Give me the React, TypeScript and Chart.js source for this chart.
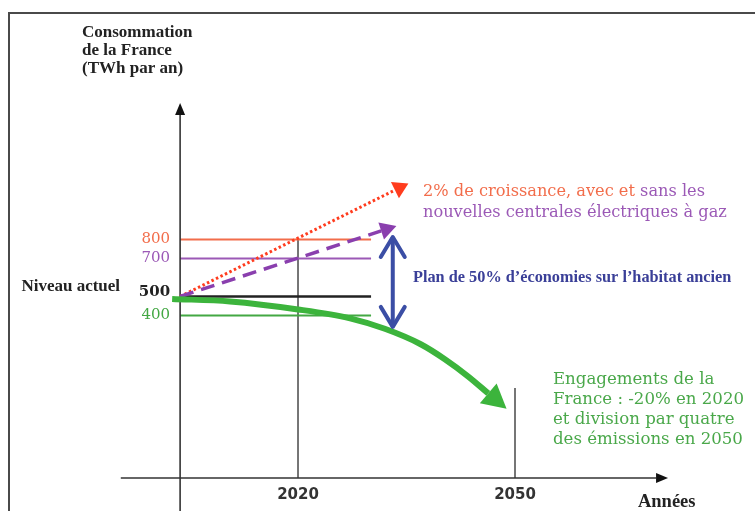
import { useEffect, useRef } from 'react';
import { Chart, registerables } from 'chart.js';

Chart.register(...registerables);

// ---------- data ----------
const Y_TITLE = ['Consommation', 'de la France', '(TWh par an)'];
const LEVEL_VALUES = [800, 700, 500, 400];
const LEVEL_LABELS = ['800', '700', '500', '400'];
const CURRENT_LEVEL = 500;
const CURRENT_LABEL = 'Niveau actuel';
const ORIGIN_YEAR = 2003.7;
const LEVEL_END_YEAR = 2030.1;
const X_TICKS = [2020, 2050];
const X_TICK_LABELS = ['2020', '2050'];
const X_TITLE = 'Années';
const GUIDE_TOPS = [800, 18];

const AXIS_BASE = -455;
const Y_AXIS_TOP = 1455;
const Y_AXIS_BOTTOM = -629;
const X_AXIS_START = 1995.5;
const X_AXIS_END = 2069.5;

const GROWTH_YEARS = [2003.7, 2033.4];
const GROWTH_VALUES = [500, 1060];
const GAS_YEARS = [2003.7, 2031.5];
const GAS_VALUES = [500, 845];
const PLAN_YEARS = [2033.1, 2033.1];
const PLAN_VALUES = [813, 340];
const COMMIT_YEARS = [2002.6, 2010.6, 2020, 2027.2, 2032.0, 2036.9, 2040.3, 2043.5, 2046.3];
const COMMIT_VALUES = [487, 474, 432, 385, 330, 250, 170, 80, -10];

const GROWTH_TEXT_1A = '2% de croissance, avec et';
const GROWTH_TEXT_1B = ' sans les';
const GROWTH_TEXT_2 = 'nouvelles centrales électriques à gaz';
const PLAN_TEXT = 'Plan de 50% d\u2019économies sur l\u2019habitat ancien';
const COMMIT_TEXT = ['Engagements de la', 'France : -20% en 2020', 'et division par quatre', 'des émissions en 2050'];

// ---------- styles ----------
const C_ORANGE = '#f26d4b';
const C_PURPLE = '#9b59b6';
const C_PURPLE_DARK = '#8a3fae';
const C_RED = '#ff3c1e';
const C_BLUE = '#3b4ea5';
const C_BLUE_TEXT = '#3a3f98';
const C_GREEN = '#3cb43c';
const C_GREEN_TEXT = '#4aa84a';
const C_AXIS = '#333333';
const LEVEL_COLORS = [C_ORANGE, C_PURPLE, '#222222', '#43a843'];
const LEVEL_WIDTHS = [2, 2, 2.5, 2];

const X_MIN = 1978.8;
const X_MAX = 2083.18;
const Y_MIN = -629;
const Y_MAX = 2060.5;

const pts = (xs: number[], ys: number[]) => xs.map((x, i) => ({ x, y: ys[i] }));

const lineDs = (data: any[], color: string, width: number, extra: any = {}) => ({
  type: 'line',
  data,
  borderColor: color,
  backgroundColor: color,
  borderWidth: width,
  pointRadius: 0,
  fill: false,
  tension: 0,
  ...extra,
});

const arrowPlugin = {
  id: 'arrowHeads',
  afterDatasetsDraw(chart: any) {
    const ctx = chart.ctx;
    chart.data.datasets.forEach((ds: any, i: number) => {
      const head = ds.head;
      if (!head) return;
      const p = chart.getDatasetMeta(i).data;
      const n = p.length;
      const drawHead = (a: any, b: any) => {
        let dx = a.x - b.x;
        let dy = a.y - b.y;
        const len = Math.hypot(dx, dy) || 1;
        dx /= len;
        dy /= len;
        const px = -dy;
        const py = dx;
        ctx.save();
        if (head.type === 'solid') {
          ctx.fillStyle = head.color;
          ctx.beginPath();
          ctx.moveTo(a.x + dx * head.length, a.y + dy * head.length);
          ctx.lineTo(a.x + px * head.width, a.y + py * head.width);
          ctx.lineTo(a.x - px * head.width, a.y - py * head.width);
          ctx.closePath();
          ctx.fill();
        } else {
          ctx.strokeStyle = head.color;
          ctx.lineWidth = head.lineWidth;
          ctx.lineCap = 'round';
          ctx.lineJoin = 'round';
          ctx.beginPath();
          ctx.moveTo(a.x - dx * head.length + px * head.width, a.y - dy * head.length + py * head.width);
          ctx.lineTo(a.x, a.y);
          ctx.lineTo(a.x - dx * head.length - px * head.width, a.y - dy * head.length - py * head.width);
          ctx.stroke();
        }
        ctx.restore();
      };
      drawHead(p[n - 1], p[n - 2]);
      if (head.both) drawHead(p[0], p[1]);
    });
  },
};

const textPlugin = {
  id: 'texts',
  afterDraw(chart: any) {
    const ctx = chart.ctx;
    const xs = chart.scales.x;
    const ys = chart.scales.y;
    const X = (v: number) => xs.getPixelForValue(v);
    const Y = (v: number) => ys.getPixelForValue(v);
    const put = (t: string, x: number, y: number, font: string, color: string, align: CanvasTextAlign = 'left') => {
      ctx.font = font;
      ctx.fillStyle = color;
      ctx.textAlign = align;
      ctx.textBaseline = 'middle';
      ctx.fillText(t, x, y);
      return ctx.measureText(t).width;
    };
    ctx.save();
    const serif = '"Liberation Serif", "Times New Roman", serif';
    const wide = '"DejaVu Serif", serif';
    // y title
    Y_TITLE.forEach((t, i) => put(t, X(1990.14), Y(1892) + 1 + i * 18, `bold 17px ${serif}`, '#222'));
    // level tick labels
    const ax = X(ORIGIN_YEAR);
    LEVEL_VALUES.forEach((v, i) => {
      const bold = v === CURRENT_LEVEL ? 'bold ' : '';
      put(LEVEL_LABELS[i], ax - 10, Y(v) - (v === CURRENT_LEVEL ? 4 : 0), `${bold}15px ${wide}`, LEVEL_COLORS[i], 'right');
    });
    put(CURRENT_LABEL, X(1995.4), Y(CURRENT_LEVEL) - 10, `bold 17px ${serif}`, '#222', 'right');
    // x ticks
    const base = Y(AXIS_BASE);
    X_TICKS.forEach((v, i) => put(X_TICK_LABELS[i], X(v), base + 17, 'bold 15px "DejaVu Sans", sans-serif', C_AXIS, 'center'));
    put(X_TITLE, X(2067.0), base + 24, `bold 18.5px ${serif}`, '#222');
    // growth text
    const gx = X(2037.28);
    const gy = Y(1050);
    const w = put(GROWTH_TEXT_1A, gx, gy, `16.2px ${wide}`, C_ORANGE);
    put(GROWTH_TEXT_1B, gx + w, gy, `16.2px ${wide}`, C_PURPLE);
    put(GROWTH_TEXT_2, gx, gy + 21, `16.2px ${wide}`, C_PURPLE);
    // plan text
    put(PLAN_TEXT, X(2035.9), Y(597), `bold 16.3px ${serif}`, C_BLUE_TEXT);
    // commitments
    COMMIT_TEXT.forEach((t, i) => put(t, X(2055.25), Y(60.5) + i * 20, `16.6px ${wide}`, C_GREEN_TEXT));
    ctx.restore();
  },
};

export default function App() {
  const ref = useRef<HTMLCanvasElement | null>(null);
  useEffect(() => {
    if (!ref.current) return;
    const datasets: any[] = [];
    // vertical guides
    X_TICKS.forEach((yr, i) => {
      datasets.push(lineDs(pts([yr, yr], [GUIDE_TOPS[i], AXIS_BASE]), '#555555', 1.6));
    });
    // level lines
    LEVEL_VALUES.forEach((v, i) => {
      datasets.push(lineDs(pts([ORIGIN_YEAR, LEVEL_END_YEAR], [v, v]), LEVEL_COLORS[i], LEVEL_WIDTHS[i]));
    });
    // axes
    datasets.push(
      lineDs(pts([ORIGIN_YEAR, ORIGIN_YEAR], [Y_AXIS_BOTTOM, Y_AXIS_TOP]), C_AXIS, 1.6, {
        head: { type: 'solid', length: 12, width: 5, color: '#111' },
      })
    );
    datasets.push(
      lineDs(pts([X_AXIS_START, X_AXIS_END], [AXIS_BASE, AXIS_BASE]), C_AXIS, 1.6, {
        head: { type: 'solid', length: 12, width: 5, color: '#111' },
      })
    );
    // scenarios
    datasets.push(
      lineDs(pts(GROWTH_YEARS, GROWTH_VALUES), C_RED, 3, {
        borderDash: [2.5, 2.5],
        head: { type: 'solid', length: 15, width: 9, color: C_RED },
      })
    );
    datasets.push(
      lineDs(pts(GAS_YEARS, GAS_VALUES), C_PURPLE_DARK, 3.5, {
        borderDash: [14, 8],
        head: { type: 'solid', length: 16, width: 9, color: C_PURPLE_DARK },
      })
    );
    datasets.push(
      lineDs(pts(PLAN_YEARS, PLAN_VALUES), C_BLUE, 4, {
        head: { type: 'chevron', length: 20, width: 12, lineWidth: 4, both: true, color: C_BLUE },
      })
    );
    datasets.push(
      lineDs(pts(COMMIT_YEARS, COMMIT_VALUES), C_GREEN, 6, {
        cubicInterpolationMode: 'monotone',
        head: { type: 'solid', length: 24, width: 13, color: C_GREEN },
      })
    );
    datasets.forEach((d, i) => (d.order = -i));

    const chart = new Chart(ref.current, {
      type: 'line',
      data: { datasets },
      options: {
        animation: false,
        responsive: false,
        events: [],
        layout: { padding: 0 },
        parsing: false,
        normalized: true,
        scales: {
          x: { type: 'linear', min: X_MIN, max: X_MAX, display: false },
          y: { type: 'linear', min: Y_MIN, max: Y_MAX, display: false },
        },
        plugins: { legend: { display: false }, tooltip: { enabled: false }, title: { display: false } },
      } as any,
      plugins: [arrowPlugin, textPlugin],
    } as any);
    return () => chart.destroy();
  }, []);

  return (
    <div style={{ position: 'fixed', left: 0, top: 0, width: 755, height: 511, background: '#fff', overflow: 'hidden' }}>
      <canvas ref={ref} width={755} height={511} style={{ position: 'absolute', left: 0, top: 0 }} />
      <div
        style={{
          position: 'absolute',
          left: 8,
          top: 12,
          right: -4,
          bottom: -4,
          borderTop: '2px solid #4a4a4a',
          borderLeft: '2px solid #4a4a4a',
          pointerEvents: 'none',
        }}
      />
    </div>
  );
}
